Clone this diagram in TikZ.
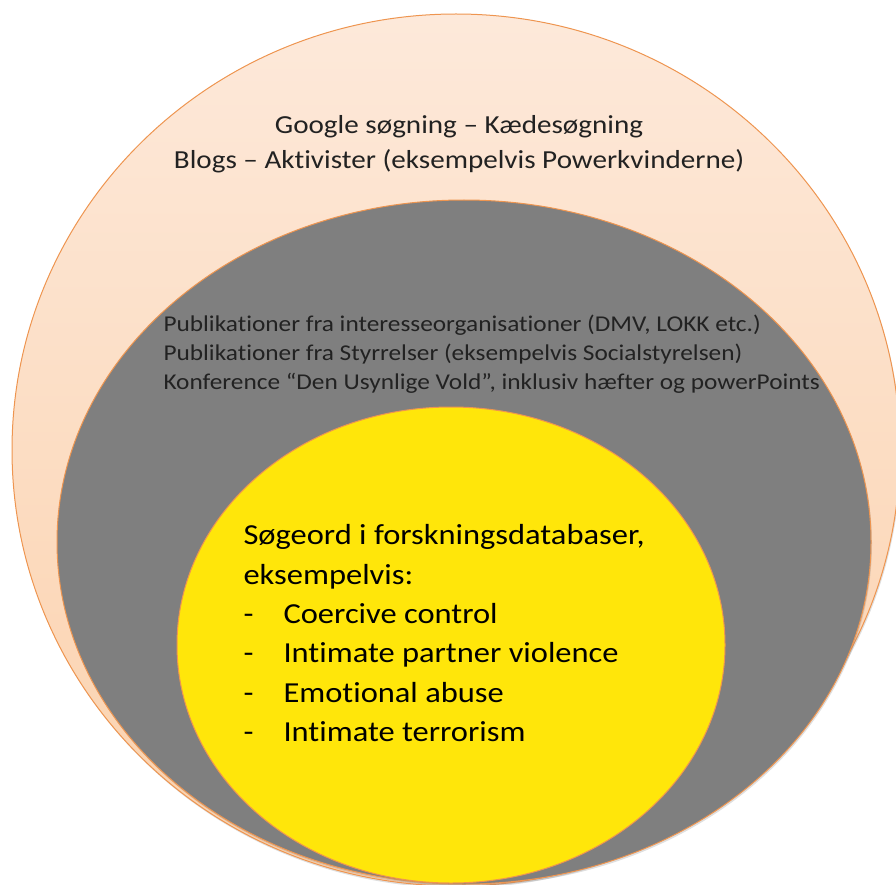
\documentclass[tikz,border=0pt]{standalone}
\usepackage{fontspec}
\setmainfont[FakeStretch=1.12,Ligatures={TeX,NoCommon}]{Carlito}
\usetikzlibrary{shapes.geometric,shadows}

\definecolor{peachtop}{HTML}{FDE9DA}
\definecolor{peachbot}{HTML}{FBD1AC}
\definecolor{rimorange}{HTML}{EE9550}
\definecolor{midgray}{HTML}{7F7F7F}
\definecolor{coreyellow}{HTML}{FFE60A}
\definecolor{inktext}{HTML}{222222}

\begin{document}
\begin{tikzpicture}[x=1pt,y=-1pt,
    ring/.style={ellipse,draw=rimorange,line width=1pt,inner sep=0pt,
      drop shadow={shadow xshift=1pt,shadow yshift=-2pt,opacity=0.25}},
    outertext/.style={align=center,text=inktext,font=\fontsize{26}{35}\selectfont},
    midtext/.style={align=left,text=inktext,font=\fontsize{22.6}{29}\selectfont},
    coretext/.style={align=left,text=black,font=\fontsize{29}{39.4}\selectfont}]
  \useasboundingbox (0,0) rectangle (896,885);
  \clip (0,0) rectangle (896,885);
  % the three rings
  \node[ring,top color=peachtop,bottom color=peachbot,
    minimum width=888,minimum height=872] (outer) at (456,450) {};
  \node[ring,fill=midgray,minimum width=814,minimum height=684] (middle) at (464,542) {};
  \node[ring,fill=coreyellow,minimum width=548,minimum height=476] (core) at (451,645) {};
  % texts
  \node[outertext] (web) at (459,144) {Google søgning -- Kædesøgning\\
    Blogs -- Aktivister (eksempelvis Powerkvinderne)};
  \node[midtext,anchor=west] (grey) at (160,354) {Publikationer fra interesseorganisationer (DMV, LOKK etc.)\\
    Publikationer fra Styrrelser (eksempelvis Socialstyrelsen)\\
    Konference “Den Usynlige Vold”, inklusiv hæfter og powerPoints};
  \node[coretext,anchor=north west] (terms) at (240,521) {Søgeord i forskningsdatabaser,\\
    eksempelvis:\\
    \makebox[40pt][l]{-}Coercive control\\
    \makebox[40pt][l]{-}Intimate partner violence\\
    \makebox[40pt][l]{-}Emotional abuse\\
    \makebox[40pt][l]{-}Intimate terrorism};
\end{tikzpicture}
\end{document}
